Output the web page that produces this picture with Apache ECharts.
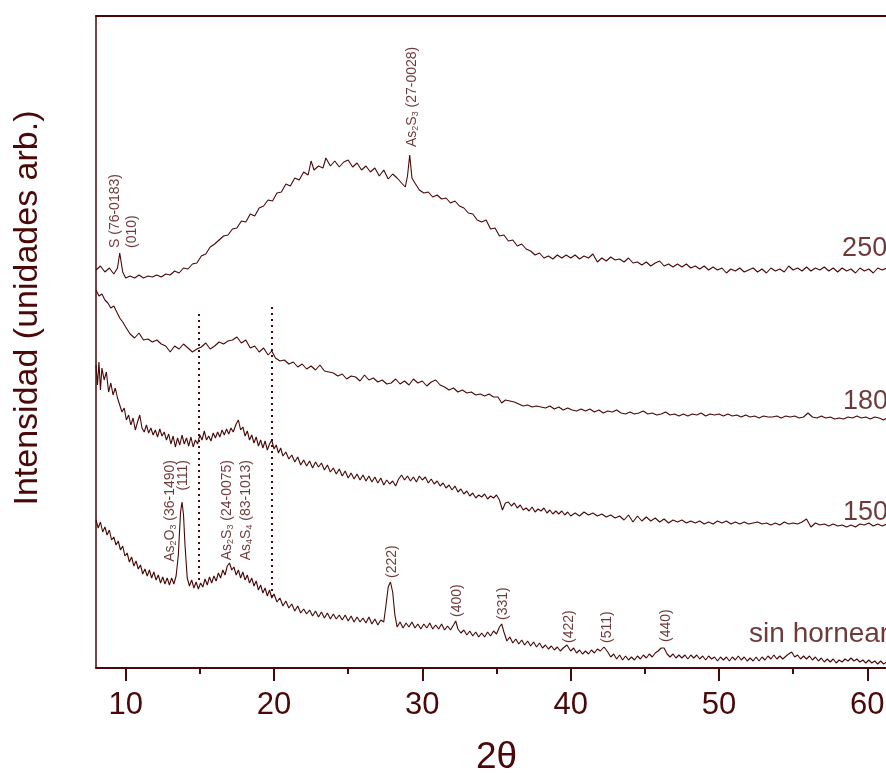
<!DOCTYPE html>
<html>
<head>
<meta charset="utf-8">
<script src="https://cdn.jsdelivr.net/npm/echarts@6/dist/echarts.min.js"></script>
<style>
  html, body { margin: 0; padding: 0; background: #ffffff; }
  #chart { width: 886px; height: 773px; }
</style>
</head>
<body>
<div id="chart"></div>
<script>
// X-ray diffraction patterns, intensity (arbitrary units, curves stacked) vs 2θ

const sampleNames = ['250', '180', '150', 'sin hornear'];

const trace250 = [
  [8.0,398],[8.3,402],[8.6,396],[8.9,400],[9.2,394],[9.45,400],[9.6,415],[9.8,396],[10.0,390],[10.3,392],
  [10.6,390],[10.9,393],[11.2,390],[11.5,392],[11.8,391],[12.1,393],[12.4,391],[12.7,394],[13.0,393],[13.3,397],
  [13.6,395],[13.9,400],[14.2,399],[14.5,404],[14.8,405],[15.1,412],[15.4,414],[15.7,421],[16.0,424],[16.3,428],
  [16.6,432],[16.9,433],[17.2,439],[17.5,440],[17.8,447],[18.1,446],[18.4,454],[18.7,452],[19.0,460],[19.3,462],
  [19.6,468],[19.9,467],[20.2,475],[20.5,476],[20.8,484],[21.1,482],[21.4,490],[21.7,488],[22.0,496],[22.3,493],
  [22.5,507],[22.7,498],[23.0,502],[23.3,500],[23.5,510],[23.8,502],[24.1,507],[24.4,501],[24.7,506],[25.0,508],
  [25.3,501],[25.6,505],[25.9,498],[26.2,502],[26.5,496],[26.8,500],[27.1,492],[27.4,498],[27.7,489],[28.0,494],
  [28.3,490],[28.6,485],[28.85,481],[29.0,492],[29.15,513],[29.3,490],[29.5,485],[29.8,478],[30.1,475],[30.4,476],
  [30.7,471],[31.0,473],[31.3,469],[31.6,470],[31.9,465],[32.2,467],[32.5,462],[32.8,460],[33.1,455],[33.4,454],
  [33.7,448],[34.0,446],[34.3,448],[34.6,439],[34.9,440],[35.2,432],[35.5,433],[35.8,427],[36.1,428],[36.4,422],
  [36.7,424],[37.0,419],[37.3,417],[37.6,413],[37.9,415],[38.2,410],[38.5,412],[38.8,409],[39.1,413],[39.4,410],
  [39.7,413],[40.0,410],[40.3,413],[40.6,409],[40.9,412],[41.2,410],[41.5,414],[41.8,406],[42.1,410],[42.4,407],
  [42.7,411],[43.0,408],[43.3,409],[43.6,406],[43.9,410],[44.2,405],[44.5,406],[44.8,403],[45.1,406],[45.4,402],
  [45.7,405],[46.0,407],[46.3,402],[46.6,404],[46.9,401],[47.2,404],[47.5,401],[47.8,404],[48.1,400],[48.4,402],
  [48.7,399],[49.0,402],[49.3,398],[49.6,401],[49.9,398],[50.2,400],[50.5,395],[50.8,399],[51.1,397],[51.4,400],
  [51.7,396],[52.0,398],[52.3,400],[52.6,396],[52.9,399],[53.2,395],[53.5,400],[53.8,397],[54.1,399],[54.4,396],
  [54.7,402],[55.0,398],[55.3,400],[55.6,397],[55.9,401],[56.2,397],[56.5,400],[56.8,398],[57.1,401],[57.4,397],
  [57.7,400],[58.0,396],[58.3,400],[58.6,397],[58.9,399],[59.2,395],[59.5,400],[59.8,397],[60.1,399],[60.4,395],
  [60.7,400],[61.0,398],[61.3,400],[61.6,396],[62.0,398]
];

const trace180 = [
  [8.0,378],[8.2,372],[8.4,374],[8.6,368],[8.8,365],[9.0,360],[9.2,362],[9.4,356],[9.6,350],[9.8,346],
  [10.0,341],[10.3,334],[10.6,330],[10.9,335],[11.2,328],[11.5,329],[11.8,326],[12.1,328],[12.4,324],[12.7,322],
  [13.0,316],[13.3,322],[13.6,319],[13.9,324],[14.2,320],[14.5,316],[14.8,319],[15.1,321],[15.4,325],[15.7,319],
  [16.0,322],[16.3,326],[16.6,324],[16.9,327],[17.2,328],[17.5,331],[17.8,325],[18.1,328],[18.4,320],[18.7,322],
  [19.0,316],[19.3,320],[19.6,313],[19.85,317],[20.1,310],[20.4,307],[20.7,308],[21.0,304],[21.3,306],[21.6,301],
  [21.9,304],[22.2,299],[22.5,302],[22.8,298],[23.1,303],[23.4,297],[23.7,296],[24.0,295],[24.3,292],[24.6,294],
  [24.9,289],[25.2,292],[25.5,291],[25.8,287],[26.1,293],[26.4,288],[26.7,290],[27.0,286],[27.3,288],[27.6,284],
  [27.9,285],[28.2,289],[28.5,284],[28.8,287],[29.1,283],[29.4,289],[29.7,285],[30.0,287],[30.3,282],[30.6,286],
  [30.9,288],[31.2,283],[31.5,281],[31.8,278],[32.1,280],[32.4,276],[32.7,278],[33.0,275],[33.3,276],[33.6,273],
  [33.9,274],[34.2,272],[34.5,274],[34.8,271],[35.1,271],[35.35,265],[35.6,268],[35.9,267],[36.2,266],[36.5,264],
  [36.8,262],[37.1,263],[37.4,261],[37.7,262],[38.0,261],[38.3,260],[38.6,262],[38.9,259],[39.2,261],[39.5,258],
  [39.8,260],[40.1,258],[40.4,257],[40.7,259],[41.0,257],[41.3,259],[41.6,256],[41.9,258],[42.2,255],[42.5,257],
  [42.8,256],[43.1,258],[43.4,255],[43.7,254],[44.0,256],[44.3,254],[44.6,255],[44.9,257],[45.2,254],[45.5,255],
  [45.8,253],[46.1,254],[46.4,256],[46.7,253],[47.0,254],[47.3,252],[47.6,254],[47.9,252],[48.2,254],[48.5,253],
  [48.8,255],[49.1,252],[49.4,254],[49.7,253],[50.0,254],[50.3,252],[50.6,254],[50.9,252],[51.2,253],[51.5,251],
  [51.8,253],[52.1,251],[52.4,252],[52.7,250],[53.0,252],[53.3,251],[53.6,251],[53.9,252],[54.2,250],[54.5,252],
  [54.8,251],[55.1,252],[55.4,250],[55.7,251],[56.0,255],[56.3,251],[56.6,250],[56.9,252],[57.2,250],[57.5,251],
  [57.8,249],[58.1,250],[58.4,249],[58.7,251],[59.0,250],[59.3,252],[59.6,250],[59.9,251],[60.2,249],[60.5,251],
  [60.8,250],[61.1,248],[61.4,251],[61.7,249],[62.0,250]
];

const trace150 = [
  [8.0,303],[8.1,283],[8.2,306],[8.3,278],[8.4,300],[8.55,288],[8.7,296],[8.85,276],[9.0,285],[9.15,273],
  [9.3,280],[9.45,270],[9.6,263],[9.75,256],[9.9,260],[10.05,248],[10.2,253],[10.35,243],[10.5,250],[10.65,238],
  [10.8,246],[10.95,253],[11.1,240],[11.25,236],[11.4,243],[11.55,235],[11.7,240],[11.85,233],[12.0,238],[12.15,231],
  [12.3,239],[12.45,232],[12.6,236],[12.75,228],[12.9,234],[13.05,224],[13.2,232],[13.35,221],[13.5,230],[13.65,223],
  [13.8,233],[13.95,224],[14.1,230],[14.25,222],[14.4,231],[14.55,221],[14.7,228],[14.85,224],[15.0,233],[15.15,228],
  [15.3,237],[15.45,228],[15.6,232],[15.75,227],[15.9,235],[16.05,230],[16.2,236],[16.35,231],[16.5,238],[16.65,233],
  [16.8,239],[16.95,234],[17.1,240],[17.25,236],[17.45,244],[17.6,248],[17.75,238],[17.9,241],[18.05,232],[18.2,237],
  [18.35,228],[18.5,233],[18.65,225],[18.8,231],[18.95,222],[19.1,228],[19.25,220],[19.4,227],[19.55,218],[19.7,224],
  [19.85,228],[20.0,219],[20.15,223],[20.3,215],[20.45,220],[20.6,212],[20.8,216],[21.0,209],[21.2,213],[21.4,206],
  [21.6,211],[21.8,203],[22.0,208],[22.2,202],[22.4,207],[22.6,200],[22.8,206],[23.0,201],[23.2,205],[23.4,198],
  [23.6,203],[23.8,196],[24.0,200],[24.2,194],[24.4,199],[24.6,192],[24.8,197],[25.0,190],[25.2,195],[25.4,189],
  [25.6,194],[25.8,188],[26.0,193],[26.2,187],[26.4,192],[26.6,186],[26.8,191],[27.0,185],[27.2,190],[27.4,183],
  [27.6,188],[27.8,184],[28.0,187],[28.2,182],[28.4,189],[28.6,193],[28.8,188],[29.0,192],[29.2,187],[29.4,191],
  [29.6,186],[29.8,192],[30.0,188],[30.2,191],[30.4,185],[30.6,189],[30.8,184],[31.0,187],[31.2,182],[31.4,185],
  [31.6,180],[31.8,183],[32.0,178],[32.2,182],[32.4,176],[32.6,179],[32.8,174],[33.0,177],[33.2,172],[33.4,175],
  [33.6,170],[33.8,173],[34.0,171],[34.2,174],[34.4,169],[34.6,172],[34.8,170],[35.0,173],[35.2,168],[35.4,158],
  [35.6,165],[35.8,166],[36.0,162],[36.2,165],[36.4,160],[36.6,163],[36.8,158],[37.0,160],[37.2,157],[37.4,161],
  [37.6,156],[37.8,159],[38.0,157],[38.2,160],[38.4,155],[38.6,158],[38.8,154],[39.0,157],[39.2,154],[39.4,157],
  [39.6,153],[39.8,156],[40.0,152],[40.3,155],[40.6,152],[40.9,156],[41.2,153],[41.5,155],[41.8,152],[42.1,154],
  [42.4,151],[42.7,153],[43.0,150],[43.3,152],[43.6,148],[43.9,153],[44.2,146],[44.5,152],[44.8,147],[45.1,151],
  [45.4,147],[45.7,150],[46.0,146],[46.3,149],[46.6,145],[46.9,148],[47.2,146],[47.5,148],[47.8,145],[48.1,147],
  [48.4,145],[48.7,147],[49.0,144],[49.3,146],[49.6,144],[49.9,147],[50.2,145],[50.5,147],[50.8,144],[51.1,146],
  [51.4,144],[51.7,146],[52.0,144],[52.3,145],[52.6,146],[52.9,144],[53.2,145],[53.5,143],[53.8,145],[54.1,143],
  [54.4,146],[54.7,144],[55.0,145],[55.3,144],[55.6,146],[55.9,149],[56.2,141],[56.5,145],[56.8,143],[57.1,144],
  [57.4,142],[57.7,144],[58.0,142],[58.3,143],[58.6,141],[58.9,143],[59.2,141],[59.5,144],[59.8,143],[60.1,145],
  [60.4,142],[60.7,144],[61.0,142],[61.3,144],[61.6,141],[62.0,143]
];

const traceRaw = [
  [8.0,148],[8.15,140],[8.3,146],[8.45,136],[8.6,141],[8.75,133],[8.9,138],[9.05,128],[9.2,131],[9.35,123],
  [9.5,127],[9.65,118],[9.8,122],[9.95,112],[10.1,115],[10.25,106],[10.4,111],[10.55,102],[10.7,107],[10.85,99],
  [11.0,103],[11.15,94],[11.3,99],[11.45,92],[11.6,98],[11.75,90],[11.9,96],[12.05,88],[12.2,93],[12.35,85],
  [12.5,91],[12.65,84],[12.8,90],[12.95,83],[13.1,90],[13.25,84],[13.4,92],[13.55,113],[13.7,156],[13.8,166],
  [13.9,153],[14.0,123],[14.15,90],[14.3,82],[14.45,88],[14.6,80],[14.75,86],[14.9,79],[15.05,85],[15.2,81],
  [15.35,89],[15.5,83],[15.65,91],[15.8,85],[15.95,92],[16.1,87],[16.25,95],[16.4,90],[16.55,98],[16.7,93],
  [16.85,102],[17.0,105],[17.15,98],[17.3,101],[17.45,93],[17.6,98],[17.75,90],[17.9,96],[18.05,88],[18.2,93],
  [18.35,85],[18.5,90],[18.65,82],[18.8,87],[18.95,78],[19.1,83],[19.25,75],[19.4,80],[19.55,72],[19.7,78],
  [19.85,70],[20.0,74],[20.2,66],[20.4,70],[20.6,62],[20.8,67],[21.0,60],[21.2,64],[21.4,57],[21.6,62],
  [21.8,55],[22.0,59],[22.2,54],[22.4,58],[22.6,52],[22.8,57],[23.0,51],[23.2,56],[23.4,50],[23.6,55],
  [23.8,49],[24.0,54],[24.2,49],[24.4,53],[24.6,48],[24.8,53],[25.0,47],[25.2,52],[25.4,46],[25.6,51],
  [25.8,46],[26.0,50],[26.2,45],[26.4,51],[26.6,44],[26.8,49],[27.0,43],[27.2,48],[27.4,46],[27.55,63],
  [27.7,81],[27.85,86],[28.0,76],[28.15,53],[28.3,41],[28.5,46],[28.7,40],[28.9,45],[29.1,41],[29.3,46],
  [29.5,40],[29.7,44],[29.9,39],[30.1,44],[30.3,40],[30.5,45],[30.7,39],[30.9,43],[31.1,39],[31.3,44],
  [31.5,38],[31.7,42],[31.9,38],[32.1,43],[32.25,47],[32.4,39],[32.6,35],[32.8,38],[33.0,33],[33.2,37],
  [33.4,32],[33.6,36],[33.8,31],[34.0,35],[34.2,31],[34.4,36],[34.6,32],[34.8,37],[35.0,34],[35.2,41],
  [35.35,44],[35.5,36],[35.7,27],[35.9,31],[36.1,25],[36.3,29],[36.5,24],[36.7,28],[36.9,23],[37.1,27],
  [37.3,22],[37.5,26],[37.7,21],[37.9,25],[38.1,20],[38.3,23],[38.5,19],[38.7,22],[38.9,18],[39.1,21],
  [39.3,17],[39.5,20],[39.75,23],[40.0,17],[40.2,20],[40.4,15],[40.6,18],[40.8,14],[41.0,17],[41.2,14],
  [41.4,18],[41.6,15],[41.8,19],[42.0,17],[42.25,21],[42.5,16],[42.7,11],[42.9,14],[43.1,9],[43.3,13],
  [43.5,8],[43.7,12],[43.9,8],[44.1,11],[44.3,8],[44.5,12],[44.7,9],[44.9,13],[45.1,10],[45.3,14],
  [45.5,11],[45.7,15],[45.9,17],[46.1,20],[46.3,20],[46.5,14],[46.7,11],[46.9,14],[47.1,10],[47.3,13],
  [47.5,10],[47.7,13],[47.9,9],[48.1,13],[48.3,10],[48.5,13],[48.7,9],[48.9,12],[49.1,8],[49.3,12],
  [49.5,9],[49.7,11],[49.9,7],[50.1,11],[50.3,8],[50.5,11],[50.7,7],[50.9,11],[51.1,8],[51.3,12],
  [51.5,8],[51.7,11],[51.9,7],[52.1,10],[52.3,7],[52.5,11],[52.7,7],[52.9,11],[53.1,8],[53.3,12],
  [53.5,9],[53.7,13],[53.9,9],[54.1,12],[54.3,9],[54.6,13],[54.9,16],[55.1,11],[55.3,13],[55.5,9],
  [55.7,12],[55.9,9],[56.1,12],[56.3,8],[56.5,11],[56.7,7],[56.9,10],[57.1,6],[57.3,9],[57.5,6],
  [57.7,9],[57.9,5],[58.1,8],[58.3,6],[58.5,9],[58.7,7],[58.9,10],[59.1,7],[59.3,9],[59.5,6],
  [59.7,8],[59.9,5],[60.1,8],[60.3,5],[60.5,7],[60.7,4],[60.9,7],[61.1,4],[61.3,6],[61.6,4],[62.0,5]
];

const traces = [trace250, trace180, trace150, traceRaw];

// where each curve's name is written (angle, intensity at the left edge of the text)
const nameAnchors = [[58.3, 419], [58.36, 266], [58.36, 155], [52.03, 34]];
const nameSizes = [27, 27, 27, 28];

// peak assignments; 'up' texts start at the anchor and run upward, 'down' texts end there
const peakNotes = [
  { angle: 9.28,  level: 420, dir: 'up',   text: 'S (76-0183)' },
  { angle: 10.43, level: 420, dir: 'up',   text: '(010)' },
  { angle: 29.29, level: 521, dir: 'up',   text: 'As{s|2}S{s|3} (27-0028)' },
  { angle: 12.97, level: 208, dir: 'down', text: 'As{s|2}O{s|3} (36-1490)' },
  { angle: 13.87, level: 208, dir: 'down', text: '(111)' },
  { angle: 16.83, level: 208, dir: 'down', text: 'As{s|2}S{s|3} (24-0075)' },
  { angle: 18.11, level: 208, dir: 'down', text: 'As{s|4}S{s|4} (83-1013)' },
  { angle: 27.94, level: 90,  dir: 'up',   text: '(222)' },
  { angle: 32.32, level: 51,  dir: 'up',   text: '(400)' },
  { angle: 35.42, level: 48,  dir: 'up',   text: '(331)' },
  { angle: 39.9,  level: 25,  dir: 'up',   text: '(422)' },
  { angle: 42.44, level: 25,  dir: 'up',   text: '(511)' },
  { angle: 46.44, level: 26,  dir: 'up',   text: '(440)' }
];

// dotted guide lines: angle, lower and upper intensity
const guideLines = [[14.9, 88, 358], [19.85, 71, 361]];

const majorTicks = [10, 20, 30, 40, 50, 60];
const minorTicks = [15, 25, 35, 45, 55];

const lineColor = '#480808';
const textColor = '#4a0808';
const font = 'Liberation Sans, Arial, sans-serif';

const chart = echarts.init(document.getElementById('chart'), null, { renderer: 'canvas' });

const series = traces.map((data, i) => ({
  name: sampleNames[i],
  type: 'line',
  data: data,
  showSymbol: false,
  symbol: 'none',
  smooth: false,
  clip: true,
  lineStyle: { color: lineColor, width: 1.1 },
  silent: true,
  z: 3
}));

// curve names
series.push({
  type: 'scatter',
  silent: true,
  symbolSize: 0,
  data: nameAnchors.map((p, i) => ({
    value: p,
    name: sampleNames[i],
    label: { fontSize: nameSizes[i] }
  })),
  label: {
    show: true,
    position: 'inside',
    align: 'left',
    verticalAlign: 'middle',
    formatter: (p) => p.name,
    fontFamily: font,
    fontSize: 27,
    color: textColor
  },
  clip: false,
  z: 5
});

// peak notes and dotted guides
series.push({
  type: 'scatter',
  silent: true,
  symbolSize: 0,
  data: peakNotes.map(n => ({
    value: [n.angle, n.level],
    label: {
      show: true,
      position: 'inside',
      rotate: 90,
      align: n.dir === 'up' ? 'left' : 'right',
      verticalAlign: 'middle',
      formatter: n.text,
      fontFamily: font,
      fontSize: 14,
      lineHeight: 16,
      color: textColor,
      rich: {
        s: { fontFamily: font, fontSize: 9, lineHeight: 6, verticalAlign: 'bottom', color: textColor }
      }
    }
  })),
  markLine: {
    silent: true,
    symbol: ['none', 'none'],
    label: { show: false },
    lineStyle: { color: lineColor, width: 2, type: [2, 4] },
    data: guideLines.map(g => [{ coord: [g[0], g[1]] }, { coord: [g[0], g[2]] }])
  },
  z: 5
});

chart.setOption({
  animation: false,
  backgroundColor: '#ffffff',
  grid: { left: 96, width: 801, top: 16, bottom: 105, containLabel: false, outerBoundsMode: 'none' },
  xAxis: [
    {
      type: 'value', min: 8, max: 62, position: 'bottom',
      axisLine: { show: true, onZero: false, lineStyle: { color: lineColor, width: 2 } },
      axisTick: { show: true, inside: false, length: 13, customValues: majorTicks, lineStyle: { color: lineColor, width: 2 } },
      axisLabel: { show: true, customValues: majorTicks, margin: 22, fontFamily: font, fontSize: 31, color: textColor },
      splitLine: { show: false },
      name: '2θ', nameLocation: 'middle', nameGap: 71, nameMoveOverlap: false,
      nameTextStyle: { fontFamily: font, fontSize: 37, color: textColor }
    },
    {
      type: 'value', min: 8, max: 62, position: 'bottom',
      axisLine: { show: false },
      axisTick: { show: true, inside: false, length: 6, customValues: minorTicks, lineStyle: { color: lineColor, width: 2 } },
      axisLabel: { show: false },
      splitLine: { show: false }
    },
    {
      type: 'value', min: 8, max: 62, position: 'top',
      axisLine: { show: true, onZero: false, lineStyle: { color: lineColor, width: 2 } },
      axisTick: { show: false },
      axisLabel: { show: false },
      splitLine: { show: false }
    }
  ],
  yAxis: {
    type: 'value', min: 0, max: 652,
    axisLine: { show: true, onZero: false, lineStyle: { color: lineColor, width: 1.5 } },
    axisTick: { show: false },
    axisLabel: { show: false },
    splitLine: { show: false }
  },
  graphic: [{
    type: 'text',
    x: 28, y: 308,
    rotation: Math.PI / 2,
    style: {
      text: 'Intensidad (unidades arb.)',
      fontFamily: font,
      fontSize: 34,
      fill: textColor,
      align: 'center',
      verticalAlign: 'middle'
    }
  }],
  series: series
});
</script>
</body>
</html>
